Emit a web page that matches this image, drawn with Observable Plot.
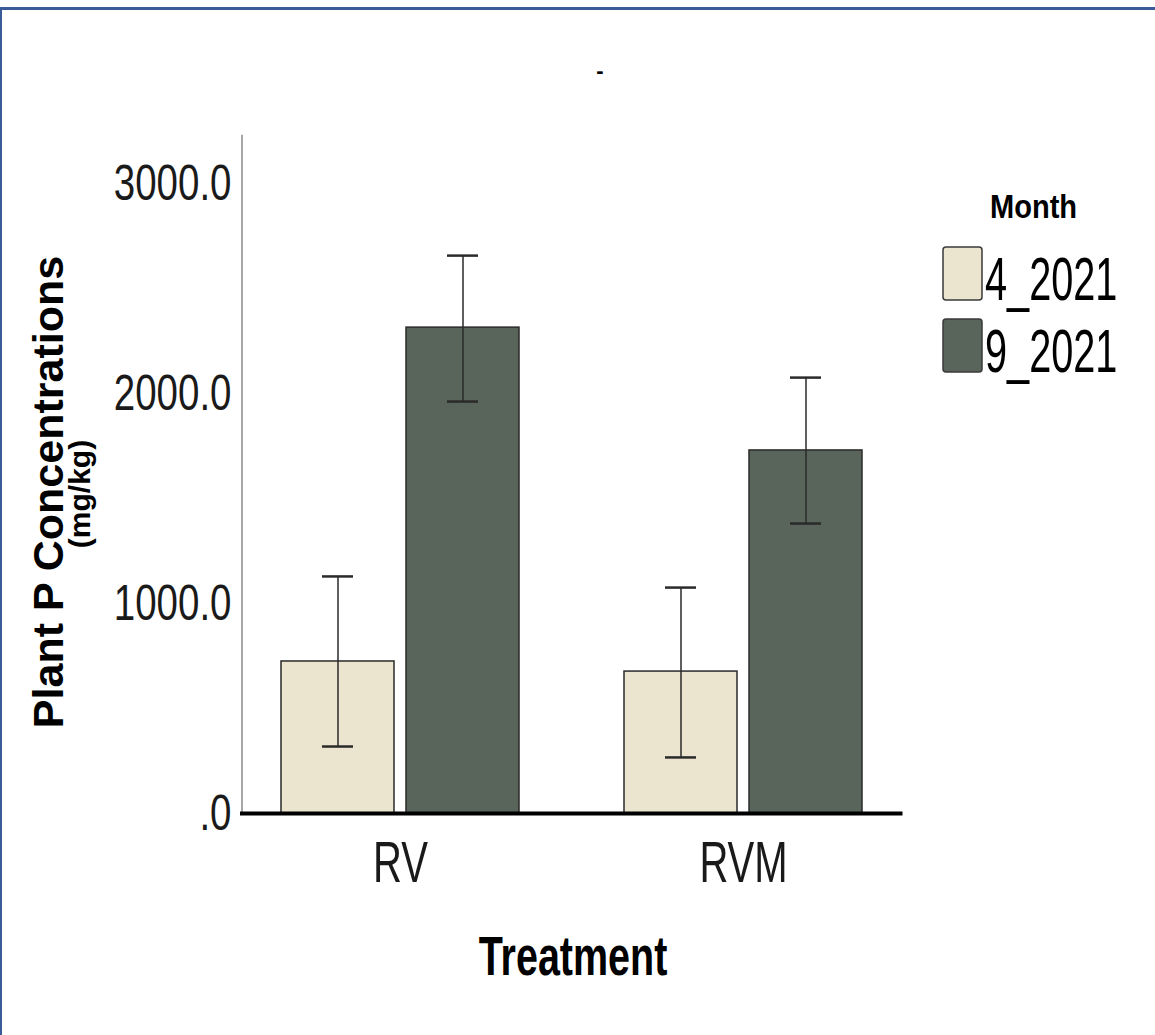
<!DOCTYPE html>
<html>
<head>
<meta charset="utf-8">
<script src="https://cdn.jsdelivr.net/npm/d3@7"></script>
<script src="https://cdn.jsdelivr.net/npm/@observablehq/plot@0.6"></script>
<style>
  html, body { margin: 0; padding: 0; background: #fff; }
  #wrap { position: relative; width: 1155px; height: 1035px; overflow: hidden; }
  #frame { position: absolute; left: 0; top: 7px; width: 1160px; height: 1040px;
           border-top: 3px solid #3b5a98; border-left: 2px solid #3b5a98; box-sizing: border-box; pointer-events: none; }
  #wrap svg { position: absolute; left: 0; top: 0; }
</style>
</head>
<body>
<div id="wrap"><div id="frame"></div></div>
<script>
// ---- data ----
const treatments = ["RV", "RVM"];
const months = ["4_2021", "9_2021"];
const treatment = ["RV", "RV", "RVM", "RVM"];
const month = ["4_2021", "9_2021", "4_2021", "9_2021"];
const meanP = [724, 2314, 676, 1729];
const lowP = [319, 1962, 267, 1381];
const highP = [1129, 2657, 1076, 2076];
const yTicks = [0, 1000, 2000, 3000];
const monthColors = ["#ebe4cf", "#59645a"];
const titleText = "-";
const yLabel1 = "Plant P Concentrations";
const yLabel2 = "(mg/kg)";
const xLabel = "Treatment";
const legendTitle = "Month";

const data = treatment.map((t, i) => ({
  treatment: t, month: month[i], mean: meanP[i], low: lowP[i], high: highP[i]
}));

const sans = "'Liberation Sans', Arial, sans-serif";

const plot = Plot.plot({
  width: 1155,
  height: 1035,
  marginTop: 135,
  marginBottom: 222,
  marginLeft: 242,
  marginRight: 253,
  style: { fontFamily: sans, background: "transparent", color: "#1a1a1a" },
  fx: { domain: treatments, paddingInner: 0.3, paddingOuter: 0.112, label: null },
  x: { domain: months, paddingInner: 0.095, paddingOuter: 0, axis: null },
  y: { domain: [0, 3229], axis: null },
  color: { domain: months, range: monthColors },
  marks: [
    Plot.barY(data, { fx: "treatment", x: "month", y: "mean", fill: "month", stroke: "#2a2a2a", strokeWidth: 1.5 }),
    Plot.ruleX(data, { fx: "treatment", x: "month", y1: "low", y2: "high", stroke: "#2a2a2a", strokeWidth: 1.5 }),
    Plot.tickY(data, { fx: "treatment", x: "month", y: "low", stroke: "#2a2a2a", strokeWidth: 2.5, insetLeft: 41, insetRight: 41 }),
    Plot.tickY(data, { fx: "treatment", x: "month", y: "high", stroke: "#2a2a2a", strokeWidth: 2.5, insetLeft: 41, insetRight: 41 }),
    Plot.axisY({ ticks: yTicks, tickFormat: d => d === 0 ? ".0" : d.toFixed(1), tickSize: 0, tickPadding: 49, fontSize: 50, label: null }),
    Plot.axisFx({ anchor: "bottom", tickSize: 0, tickPadding: 27, fontSize: 58, label: null }),
    Plot.frame({ anchor: "left", facet: "super", stroke: "#8a8a8a", strokeWidth: 1.5, insetLeft: -38.5 }),
    Plot.frame({ anchor: "bottom", facet: "super", stroke: "#000", strokeWidth: 4, insetLeft: -38.5, insetRight: -37 })
  ]
});

document.getElementById("wrap").appendChild(plot);

const svg = d3.select(plot);

// emulate a condensed (narrow) face by compressing glyphs horizontally
function narrow(sel, factor) {
  sel.each(function () {
    const w = this.getComputedTextLength();
    d3.select(this).attr("textLength", w * factor).attr("lengthAdjust", "spacingAndGlyphs");
  });
}
narrow(svg.selectAll("g[aria-label='y-axis tick label'] text"), 0.77);
narrow(svg.selectAll("g[aria-label='fx-axis tick label'] text"), 0.69);
svg.selectAll("g[aria-label='y-axis tick label'], g[aria-label='fx-axis tick label']").attr("fill", "#1a1a1a");

// ---- annotations: title, axis titles, legend ----
const g = svg.append("g").attr("fill", "#000").attr("font-family", sans);

g.append("text").attr("x", 600).attr("y", 78).attr("text-anchor", "middle")
  .attr("font-weight", "bold").attr("font-size", 22).text(titleText);

g.append("text").attr("transform", "translate(63,492) rotate(-90)").attr("text-anchor", "middle")
  .attr("font-weight", "bold").attr("font-size", 43).text(yLabel1);
g.append("text").attr("transform", "translate(90,494) rotate(-90)").attr("text-anchor", "middle")
  .attr("font-weight", "bold").attr("font-size", 30).text(yLabel2);

const xl = g.append("text").attr("x", 573).attr("y", 975).attr("text-anchor", "middle")
  .attr("font-weight", "bold").attr("font-size", 56).text(xLabel);
narrow(xl, 0.705);

// legend
g.append("text").attr("transform", "translate(990,218) scale(0.88,1)").attr("text-anchor", "start")
  .attr("font-weight", "bold").attr("font-size", 33).text(legendTitle);
months.forEach((m, i) => {
  const y0 = 247 + i * 72;
  g.append("rect").attr("x", 943).attr("y", y0).attr("width", 39).attr("height", 53).attr("rx", 3)
    .attr("fill", monthColors[i]).attr("stroke", "#3a3a3a").attr("stroke-width", 1.5);
  g.append("text").attr("transform", `translate(985,${y0 + 53}) scale(0.64,1)`).attr("text-anchor", "start")
    .attr("font-size", 62).text(m);
});
</script>
</body>
</html>
